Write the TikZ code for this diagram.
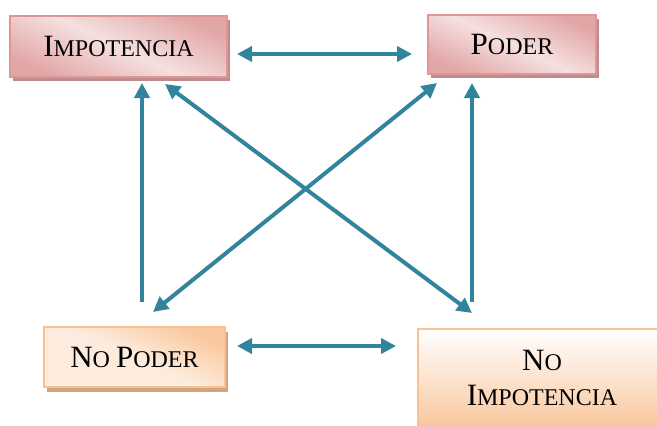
\documentclass[tikz,border=0pt]{standalone}
\usepackage{fontspec}
\setmainfont{Liberation Serif}
\usetikzlibrary{arrows.meta,calc,shadows}
\definecolor{teal1}{RGB}{49,132,155}
\definecolor{pinkB}{RGB}{222,150,150}
\definecolor{pinkD}{RGB}{226,166,166}
\definecolor{pinkL}{RGB}{245,224,224}
\definecolor{pinkS}{RGB}{190,140,140}
\definecolor{orB}{RGB}{250,192,144}
\definecolor{orD}{RGB}{249,200,158}
\definecolor{orL}{RGB}{253,236,222}
\definecolor{orS}{RGB}{210,165,130}
\newcommand\fakesc[2]{{\fontsize{31}{37}\selectfont #1}{\fontsize{24}{37}\selectfont #2}}
\tikzset{
  box/.style={draw, line width=2pt, inner sep=0pt, outer sep=0pt, align=center,
    font=\fontsize{24}{37}\selectfont, text=black},
  pinkbox/.style={box, draw=pinkB, left color=pinkD, right color=pinkD, middle color=pinkL,
    shading angle=155, drop shadow={shadow xshift=3pt, shadow yshift=-4pt, fill=pinkS, opacity=1}},
  orbox/.style={box, draw=orB, left color=orL, right color=orD, middle color=orL,
    shading angle=155, drop shadow={shadow xshift=3pt, shadow yshift=-5pt, fill=orS, opacity=1}},
  orbox2/.style={box, draw=orB, top color=white, bottom color=orD},
  conn/.style={draw=teal1, line width=4pt},
}
\begin{document}
\begin{tikzpicture}[x=1pt,y=-1pt]
\useasboundingbox (0,0) rectangle (657,426);
\node[pinkbox, minimum width=217pt, minimum height=61pt] (imp) at (118.5,46.5) {\fakesc{I}{MPOTENCIA}};
\node[pinkbox, minimum width=168pt, minimum height=59pt] (pod) at (512,44.5) {\fakesc{P}{ODER}};
\node[orbox, minimum width=181pt, minimum height=60pt] (np) at (134.5,357) {\fakesc{N}{O} \fakesc{P}{ODER}};
\node[orbox2, minimum width=248pt, minimum height=97pt] (ni) at (542,377.5) {\fakesc{N}{O}\\[-2pt]\fakesc{I}{MPOTENCIA}};
\draw[conn, {Triangle[length=15pt,width=15pt]}-{Triangle[length=15pt,width=15pt]}] ($(imp.east)+(10,7.5)$) -- ($(pod.west)+(-16,9.5)$);
\draw[conn, {Triangle[length=15pt,width=15pt]}-{Triangle[length=15pt,width=15pt]}] ($(np.east)+(12,-11)$) -- ($(ni.west)+(-22,-31.5)$);
\draw[conn, -{Triangle[length=15pt,width=15pt]}] ($(np.north)+(7.5,-25)$) -- ($(imp.south)+(23.5,6)$);
\draw[conn, -{Triangle[length=15pt,width=15pt]}] ($(ni.north)+(-70,-27)$) -- ($(pod.south)+(-40,9)$);
\draw[conn, {Triangle[length=15pt,width=15pt]}-{Triangle[length=15pt,width=15pt]}] ($(imp.south)+(46.5,7)$) -- ($(ni.north)+(-70,-16)$);
\draw[conn, {Triangle[length=15pt,width=15pt]}-{Triangle[length=15pt,width=15pt]}] ($(pod.south)+(-75,9)$) -- ($(np.north)+(18.5,-15)$);
\end{tikzpicture}
\end{document}
